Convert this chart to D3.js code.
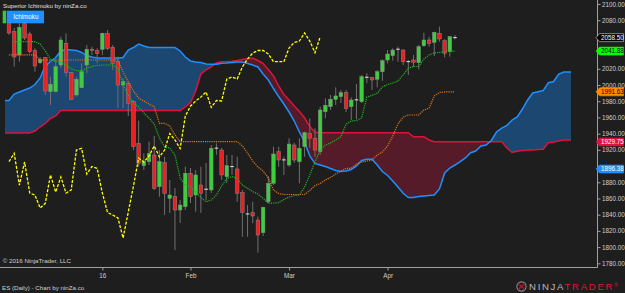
<!DOCTYPE html>
<html><head><meta charset="utf-8">
<script src="https://cdn.jsdelivr.net/npm/d3@7"></script>
<style>
html,body{margin:0;padding:0;background:#1e1e1e;overflow:hidden;}
svg{display:block;}
</style></head><body>
<svg id="chart" width="625" height="293"></svg>
<script>
// ---------- DATA ----------
const opens = [2082,2065.8,2037.1,2075.9,2063.0,2042.4,2027.6,2033.7,1991.8,1991.8,
2024.7,2051.5,2015.2,1987.7,1996.7,2024.7,2044.2,2042.4,2044.1,2063.8,
2046.6,2028.8,2000.0,2002.1,1979.4,1928.1,1900.4,1905.4,1913.7,1874.5,
1904.1,1860.2,1862.2,1845.8,1849.9,1891.1,1864.3,1876.6,1871.4,1870.5,
1922.1,1919.8,1886.9,1899.3,1896.4,1867.1,1840.9,1842.4,1833.4,1817.8,
1856.0,1878.7,1917.7,1907.6,1901.3,1926.0,1905.4,1923.9,1940.4,1934.3,
1917.7,1967.1,1973.3,1982.4,1985.6,1990.5,1973.3,1981.7,1979.4,2009.6,
2009.0,2007.1,2016.4,2030.9,2036.2,2044.2,2043.2,2028.9,2030.9,2027.6,
2048.5,2055.6,2052.7,2063.8,2054.7,2041.1,2058.5];
const highs = [2086,2070.4,2076.2,2079.0,2065.8,2045.3,2034.6,2034.6,2010.3,2030.9,
2059.7,2063.8,2016.5,2010.3,2026.8,2049.4,2047.3,2045.3,2064.6,2067.9,
2049.4,2035.0,2008.3,2004.1,1981.5,1956.0,1915.7,1930.1,1937.1,1919.8,
1911.5,1882.8,1872.9,1858.1,1899.2,1897.6,1895.1,1899.2,1903.8,1926.0,
1928.0,1922.3,1913.7,1913.7,1911.5,1870.5,1852.0,1856.0,1837.5,1849.9,
1887.7,1923.9,1923.9,1911.5,1934.3,1928.8,1934.3,1942.4,1958.9,1946.6,
1973.3,1983.6,1987.7,1997.2,1993.9,1993.9,1984.9,2001.3,2012.4,2014.5,
2010.3,2018.6,2031.7,2043.2,2045.3,2047.3,2044.1,2030.9,2037.1,2049.4,
2064.6,2059.6,2065.8,2072.0,2056.4,2060.5,2061.7];
const lows = [2061.7,2022.6,2028.8,2055.6,2039.1,2016.5,2026.0,1987.7,1975.4,1991.0,
2020.6,2010.3,1981.5,1985.6,1996.0,2014.5,2037.1,2026.8,2037.1,2043.2,
2018.6,1971.3,1971.3,1961.8,1919.8,1899.2,1895.1,1901.3,1870.5,1862.2,
1839.6,1842.1,1796.4,1829.7,1845.8,1854.4,1843.7,1842.1,1858.1,1866.8,
1914.0,1882.8,1879.0,1889.0,1856.0,1812.8,1812.8,1829.4,1793.1,1813.7,
1854.4,1876.6,1899.2,1889.0,1899.2,1904.1,1878.7,1911.5,1922.3,1911.5,
1913.7,1958.9,1969.2,1975.4,1977.8,1966.7,1956.8,1957.7,1977.8,2002.1,
1993.9,1997.2,2005.3,2026.8,2030.0,2028.8,2024.7,2012.4,2022.6,2019.4,
2047.3,2047.3,2035.8,2053.5,2034.2,2035.0,2056.4];
const closes = [2064.2,2034.6,2071.2,2058.0,2041.1,2023.5,2031.8,1992.6,2000.9,2022.6,
2055.6,2015.7,1982.4,2007.1,2016.4,2044.1,2043.0,2039.1,2063.8,2045.3,
2026.8,2000.0,2004.1,1977.5,1923.9,1903.4,1905.4,1915.7,1872.6,1905.4,
1866.4,1864.3,1845.8,1851.9,1891.1,1862.2,1889.0,1866.4,1871.2,1921.9,
1922.3,1889.0,1900.4,1899.1,1866.4,1843.0,1840.7,1838.4,1814.9,1849.1,
1878.7,1914.9,1907.5,1907.4,1927.2,1907.5,1921.9,1941.2,1934.3,1919.8,
1969.2,1975.0,1982.4,1986.5,1990.5,1971.3,1981.5,1981.4,2010.3,2009.4,
2006.2,2016.4,2030.0,2038.3,2043.2,2044.0,2028.8,2028.7,2028.1,2047.3,
2055.6,2051.5,2065.1,2056.8,2039.1,2059.7,2058.5];

// Tenkan-sen (green dotted), one value per bar
const tenkan = [null,2053.5,2053.5,2053.5,2053.5,2053.5,2050.6,2042.0,2032.1,2029.0,
2027.8,2024.7,2019.8,2017.9,2017.7,2020.7,2022.9,2024.1,2024.7,2024.7,
2024.7,2020.4,2000.0,1987.7,1977.8,1972.9,1965.5,1959.3,1951.9,1934.6,
1923.5,1922.3,1913.7,1885.3,1876.6,1874.5,1868.0,1861.2,1856.0,1858.1,
1864.3,1875.4,1884.9,1886.9,1884.9,1876.6,1872.6,1868.4,1865.5,1860.2,
1854.1,1854.4,1854.8,1858.7,1861.8,1863.7,1864.3,1874.2,1889.0,1905.0,
1919.8,1926.0,1928.5,1932.2,1936.2,1951.9,1955.6,1956.2,1959.3,1985.2,
1987.1,1989.8,1997.6,2000.7,2002.5,2005.0,2012.4,2021.0,2022.9,2022.9,
2032.1,2037.1,2039.5,2040.2,2041.1,2041.9,2041.88];
// Kijun-sen (orange dotted)
const kijun = [2037.1,2037.1,2037.1,2037.1,2037.1,2037.1,2030.9,2030.9,2030.9,2030.9,
2030.9,2030.9,2030.9,2030.9,2030.9,2030.9,2030.9,2030.9,2030.9,2030.9,
2030.9,2030.9,2016.1,2003.7,1992.6,1984.0,1980.3,1976.6,1973.2,1952.8,
1952.8,1949.4,1938.3,1930.1,1930.1,1930.1,1930.1,1930.1,1930.1,1930.1,
1930.1,1930.1,1930.1,1930.1,1930.1,1924.8,1916.1,1906.2,1898.8,1893.9,
1885.3,1870.5,1866.1,1864.9,1864.9,1864.9,1864.9,1864.9,1869.8,1876.0,
1878.5,1882.8,1885.9,1890.2,1893.9,1897.0,1897.2,1902.5,1905.0,1906.2,
1907.5,1913.7,1917.4,1924.8,1937.1,1951.9,1960.5,1963.0,1963.0,1963.0,
1969.2,1971.3,1986.5,1990.8,1991.4,1991.63,1991.63];
// Chikou span (yellow dashed), bars 0..60
const chikou = [1905.4,1915.7,1876.6,1905.0,1866.7,1864.3,1848.2,1854.0,1889.0,1868.0,
1886.5,1866.7,1870.5,1919.8,1921.9,1890.2,1899.5,1897.2,1866.7,1842.7,
1839.6,1835.9,1811.2,1843.3,1875.4,1909.9,1905.0,1912.4,1924.8,1911.2,
1919.8,1940.2,1932.2,1921.7,1961.8,1974.1,1980.3,1985.2,1991.4,1972.3,
1980.9,1980.3,2007.4,2009.9,2007.4,2022.3,2032.1,2039.5,2042.6,2042.6,
2038.3,2028.8,2028.8,2028.8,2045.7,2052.5,2054.3,2064.2,2054.3,2039.9,
2059.3];
// Senkou spans, starting at bar -1 and running into the future
const cloudStart = -1;
const senkouA = [1980.9,1980.9,1988.9,1991.4,1993.9,1996.3,2000.6,2008.7,2023.5,2029.0,2034.0,
2042.0,2043.9,2043.2,2042.6,2040.2,2036.4,2034.6,2033.4,2033.4,2033.4,
2033.4,2033.4,2034.0,2043.2,2046.3,2050.6,2048.2,2046.3,2046.3,2046.3,
2046.3,2046.3,2046.3,2042.0,2034.6,2029.7,2028.4,2027.8,2025.9,2025.6,
2025.6,2026.8,2027.2,2027.8,2028.4,2028.4,2026.6,2024.7,2022.3,2013.6,
2006.2,1995.7,1985.8,1976.6,1966.7,1955.6,1942.0,1929.7,1912.4,1903.2,
1901.3,1899.5,1897.0,1894.5,1893.3,1893.9,1895.8,1900.1,1906.9,1908.5,
1908.4,1901.3,1893.3,1888.4,1881.6,1874.2,1866.4,1861.2,1861.2,1862.4,
1863.1,1863.7,1864.3,1871.7,1891.4,1897.6,1901.3,1905.4,1910.0,1916.5,
1918.6,1924.8,1926.0,1931.6,1942.0,1946.9,1950.1,1956.8,1960.6,1970.4,
1981.5,1990.2,1991.8,1993.2,2002.9,2004.4,2013.6,2016.1,2016.1,2016.1];
const senkouB = [1940.8,1940.8,1940.8,1940.8,1940.8,1940.8,1943.3,1948.2,1952.5,1958.7,1961.8,
1968.6,1968.6,1968.6,1968.6,1968.6,1968.6,1968.6,1968.6,1968.6,1968.6,
1968.6,1968.6,1968.6,1968.6,1968.6,1968.6,1968.6,1968.6,1968.6,1968.6,
1968.6,1968.6,1968.6,1968.6,1972.9,1978.4,1992.6,2013.6,2018.6,2022.3,
2027.2,2028.8,2029.0,2029.4,2030.3,2031.5,2032.7,2033.0,2030.3,2026.6,
2019.2,2011.2,1998.8,1988.3,1981.5,1974.1,1967.3,1959.3,1948.8,1941.7,
1941.2,1941.2,1941.2,1941.2,1941.2,1941.2,1941.2,1941.2,1941.2,1941.2,
1941.2,1941.2,1941.2,1941.2,1941.2,1941.2,1941.2,1941.2,1936.2,1936.2,
1936.2,1932.2,1930.1,1930.1,1930.1,1930.1,1930.1,1930.1,1930.1,1930.1,
1930.1,1930.1,1930.1,1930.1,1930.1,1930.1,1922.3,1916.7,1918.2,1919.2,
1919.8,1919.8,1920.4,1920.7,1928.8,1929.7,1930.9,1932.2,1932.2,1932.2];

const xTickIdx = [18, 35, 54, 73];
const xTickLabels = ["16", "Feb", "Mar", "Apr"];
const yTicks = [1780,1800,1820,1840,1860,1880,1900,1920,1940,1960,1980,2000,2020,2040,2060,2080,2100];
const markerValues = [2058.50, 2041.88, 1991.63, 1929.75, 1896.38];
const markerLabels = ["2058.50", "2041.88", "1991.63", "1929.75", "1896.38"];

// ---------- STYLE ----------
const FONT = "'Liberation Sans', Arial, sans-serif";
const markerStyle = [
  {fill:"#000000", stroke:"#d0d0d0", text:"#ffffff"},
  {fill:"#00ff00", stroke:"#00ff00", text:"#000000"},
  {fill:"#ff8c00", stroke:"#ff8c00", text:"#000000"},
  {fill:"#dc143c", stroke:"#dc143c", text:"#ffffff"},
  {fill:"#1e90ff", stroke:"#1e90ff", text:"#ffffff"}
];

// ---------- DRAW ----------
const W = 625, H = 293, plotRight = 597, plotBottom = 267;
const svg = d3.select("#chart");
svg.append("rect").attr("width", W).attr("height", H).attr("fill", "#1e1e1e");

const x = d3.scaleLinear().domain([0, 86]).range([9, 455]);
const y = d3.scaleLinear().domain([1780, 2100]).range([263.3, 4]);

const defs = svg.append("defs");
defs.append("clipPath").attr("id", "cloudClip").append("rect")
  .attr("x", 5).attr("y", 0).attr("width", 566).attr("height", plotBottom);
defs.append("clipPath").attr("id", "plotClip").append("rect")
  .attr("x", 0).attr("y", 0).attr("width", plotRight).attr("height", plotBottom);

const cloud = senkouA.map((a, k) => ({i: k + cloudStart, a: a, b: senkouB[k]}));
defs.append("clipPath").attr("id", "aboveB").append("path")
  .attr("d", d3.area().x(d => x(d.i)).y0(0).y1(d => y(d.b))(cloud));
defs.append("clipPath").attr("id", "belowB").append("path")
  .attr("d", d3.area().x(d => x(d.i)).y0(plotBottom).y1(d => y(d.b))(cloud));

const cg = svg.append("g").attr("clip-path", "url(#cloudClip)");
const band = d3.area().x(d => x(d.i)).y0(d => y(d.a)).y1(d => y(d.b));
cg.append("g").attr("clip-path", "url(#aboveB)").append("path").attr("d", band(cloud)).attr("fill", "#1c4770");
cg.append("g").attr("clip-path", "url(#belowB)").append("path").attr("d", band(cloud)).attr("fill", "#561b28");
cg.append("path").datum(cloud).attr("fill", "none").attr("stroke", "#dc143c").attr("stroke-width", 1.5)
  .attr("d", d3.line().x(d => x(d.i)).y(d => y(d.b)));
cg.append("path").datum(cloud).attr("fill", "none").attr("stroke", "#1e90ff").attr("stroke-width", 1.5)
  .attr("d", d3.line().x(d => x(d.i)).y(d => y(d.a)));

// candles
const pg = svg.append("g").attr("clip-path", "url(#plotClip)");
const bars = opens.map((o, i) => ({i, o, h: highs[i], l: lows[i], c: closes[i]}));
const cs = pg.append("g");
cs.selectAll("line.wick").data(bars).enter().append("line")
  .attr("x1", d => x(d.i)).attr("x2", d => x(d.i))
  .attr("y1", d => y(d.h)).attr("y2", d => y(d.l))
  .attr("stroke", "#707070").attr("stroke-width", 1);
const bw = 3.6;
cs.selectAll("rect.body").data(bars).enter().append("rect")
  .attr("x", d => x(d.i) - bw / 2)
  .attr("y", d => Math.abs(d.o - d.c) < 0.5 ? y(d.o) - 0.5 : y(Math.max(d.o, d.c)))
  .attr("width", bw)
  .attr("height", d => Math.abs(d.o - d.c) < 0.5 ? 1 : Math.max(1, Math.abs(y(d.o) - y(d.c))))
  .attr("fill", d => Math.abs(d.o - d.c) < 0.5 ? "#e6e6e6" : (d.c > d.o ? "#3ccf3c" : "#f01e1e"))
  .attr("stroke", d => Math.abs(d.o - d.c) < 0.5 ? "none" : "#8a8a8a")
  .attr("stroke-width", 0.5);

// indicator lines
const lineIdx = d3.line().defined(d => d != null).x((d, i) => x(i)).y(d => y(d));
pg.append("path").datum(kijun).attr("fill", "none").attr("stroke", "#d9771a")
  .attr("stroke-width", 1.2).attr("stroke-dasharray", "1.2,1").attr("d", lineIdx);
pg.append("path").datum(tenkan).attr("fill", "none").attr("stroke", "#22b422")
  .attr("stroke-width", 1.2).attr("stroke-dasharray", "1.2,1").attr("d", lineIdx);
pg.append("path").datum(chikou).attr("fill", "none").attr("stroke", "#ffff00")
  .attr("stroke-width", 1.3).attr("stroke-dasharray", "3,1.5").attr("d", lineIdx);

// axes lines
svg.append("line").attr("x1", plotRight + 0.5).attr("x2", plotRight + 0.5).attr("y1", 0).attr("y2", plotBottom + 0.5)
  .attr("stroke", "#a0a0a0").attr("stroke-width", 1);
svg.append("line").attr("x1", 0).attr("x2", plotRight + 0.5).attr("y1", plotBottom + 0.5).attr("y2", plotBottom + 0.5)
  .attr("stroke", "#a0a0a0").attr("stroke-width", 1);

// y axis (labels sitting under a price marker are hidden, as in the platform)
const hiddenUnderMarker = v => markerValues.some(m => Math.abs(y(m) - y(v)) < 5);
const ga = svg.append("g").attr("transform", `translate(${plotRight + 0.5},0)`)
  .call(d3.axisRight(y).tickValues(yTicks)
    .tickFormat(v => hiddenUnderMarker(v) ? "" : d3.format(".2f")(v))
    .tickSize(3).tickPadding(1.5));
ga.attr("font-size", 6.3).attr("font-family", FONT);
ga.select(".domain").remove();
ga.selectAll("line").attr("stroke", "#a0a0a0");
ga.selectAll("text").attr("fill", "#d0d0d0");

// x axis
const gx = svg.append("g").attr("transform", `translate(0,${plotBottom + 0.5})`)
  .call(d3.axisBottom(x).tickValues(xTickIdx).tickFormat((d, i) => xTickLabels[i]).tickSize(3).tickPadding(3.5));
gx.attr("font-size", 6.3).attr("font-family", FONT);
gx.select(".domain").remove();
gx.selectAll("line").attr("stroke", "#a0a0a0");
gx.selectAll("text").attr("fill", "#d0d0d0");

// price markers
const mg = svg.append("g").attr("font-size", 6.3).attr("font-family", FONT);
markerValues.forEach((v, k) => {
  const yy = y(v);
  mg.append("path")
    .attr("d", `M596,${yy} L599.5,${yy - 4} L623.5,${yy - 4} L623.5,${yy + 4} L599.5,${yy + 4} Z`)
    .attr("fill", markerStyle[k].fill).attr("stroke", markerStyle[k].stroke).attr("stroke-width", 0.6);
  mg.append("text").attr("x", 601).attr("y", yy).attr("dy", "0.35em")
    .attr("fill", markerStyle[k].text).text(markerLabels[k]);
});

// title & legend
svg.append("text").attr("x", 3).attr("y", 7.5).attr("font-size", 6.2).attr("font-family", FONT)
  .attr("fill", "#e0e0e0").text("Superior Ichimoku by ninZa.co");
svg.append("rect").attr("x", 2.7).attr("y", 10.7).attr("width", 3.3).attr("height", 12.6).attr("fill", "#33cc33");
svg.append("rect").attr("x", 6.7).attr("y", 10.7).attr("width", 37.3).attr("height", 12.6).attr("fill", "#1e90ff");
svg.append("text").attr("x", 13.3).attr("y", 19.2).attr("font-size", 6.3).attr("font-family", FONT)
  .attr("fill", "#ffffff").text("Ichimoku");

// footer texts
svg.append("text").attr("x", 2.7).attr("y", 263.3).attr("font-size", 6.2).attr("font-family", FONT)
  .attr("fill", "#d0d0d0").text("© 2016 NinjaTrader, LLC");
svg.append("text").attr("x", 2).attr("y", 289.5).attr("font-size", 6.2).attr("font-family", FONT)
  .attr("fill", "#d0d0d0").text("ES (Daily) - Chart by ninZa.co");

// NinjaTrader logo
const lg = svg.append("g");
lg.append("circle").attr("cx", 521.5).attr("cy", 286.5).attr("r", 4.6).attr("fill", "none").attr("stroke", "#8a8a8a").attr("stroke-width", 1.1);
lg.append("path").attr("d", "M518.8,284 L524.2,289 M524.2,284 L518.8,289").attr("stroke", "#c8102e").attr("stroke-width", 1.2);
const lt = lg.append("text").attr("x", 529).attr("y", 290.3).attr("font-size", 9.6).attr("font-family", FONT)
  .attr("letter-spacing", 1.7);
lt.append("tspan").attr("fill", "#b8b8b8").text("NINJA");
lt.append("tspan").attr("fill", "#d2202f").text("TRADER");
lt.append("tspan").attr("fill", "#d2202f").attr("font-size", 5).attr("dy", -3.5).attr("letter-spacing", 0).text("®");
</script>
</body></html>
